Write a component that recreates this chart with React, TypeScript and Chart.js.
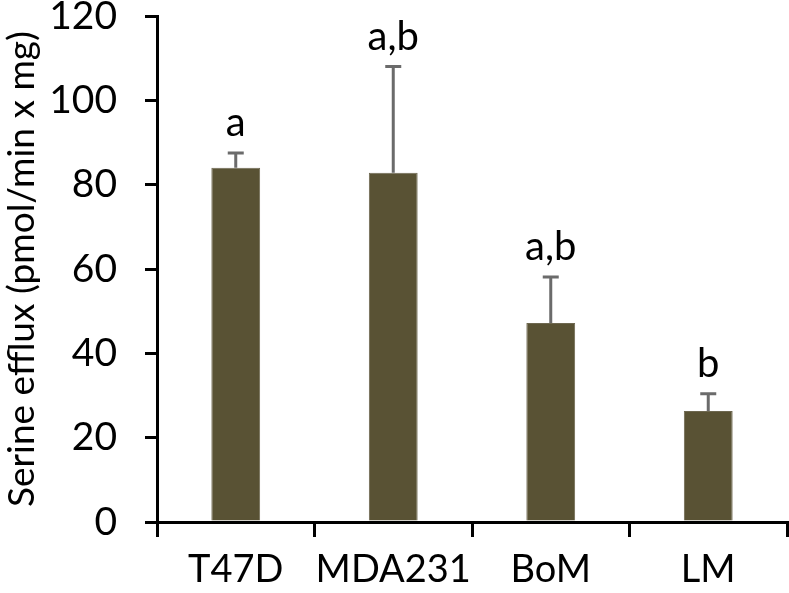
import React, { useEffect, useRef } from "react";
import { Chart, registerables } from "chart.js";

Chart.register(...registerables);

const categories = ["T47D", "MDA231", "BoM", "LM"];
const means = [84, 82.8, 47.2, 26.3];
const errors = [3.5, 25.2, 10.9, 4.1];
const letters = ["a", "a,b", "a,b", "b"];
const yTitle = "Serine efflux (pmol/min x mg)";

const FONT = "Lato, Carlito, Calibri, 'DejaVu Sans', sans-serif";

const errorBarPlugin = {
  id: "errorBarsAndLetters",
  afterDatasetsDraw(chart: any) {
    const ctx = chart.ctx;
    const meta = chart.getDatasetMeta(0);
    const y = chart.scales.y;
    ctx.save();
    meta.data.forEach((bar: any, i: number) => {
      const x = bar.x;
      const base = y.getPixelForValue(means[i]);
      const top = y.getPixelForValue(means[i] + errors[i]);
      ctx.strokeStyle = "#6b6b6b";
      ctx.lineWidth = 3;
      ctx.beginPath();
      ctx.moveTo(x, base);
      ctx.lineTo(x, top);
      ctx.moveTo(x - 8, top);
      ctx.lineTo(x + 8, top);
      ctx.stroke();
      ctx.fillStyle = "#000";
      ctx.font = `40px ${FONT}`;
      ctx.textAlign = "center";
      ctx.textBaseline = "alphabetic";
      ctx.fillText(letters[i], x, top - 17);
    });
    ctx.restore();
  },
};

export default function App() {
  const ref = useRef<HTMLCanvasElement | null>(null);
  useEffect(() => {
    if (!ref.current) return;
    const chart = new Chart(ref.current, {
      type: "bar",
      data: {
        labels: categories,
        datasets: [
          {
            data: means,
            backgroundColor: "#595234",
            borderColor: "#6e6850",
            borderWidth: 1,
            barPercentage: 0.31,
            categoryPercentage: 1,
          },
        ],
      },
      options: {
        responsive: false,
        animation: false,
        devicePixelRatio: 1,
        layout: { padding: { top: 16, right: 2, left: 0, bottom: 0 } },
        plugins: {
          legend: { display: false },
          tooltip: { enabled: false },
        },
        scales: {
          x: {
            grid: {
              display: true,
              drawOnChartArea: false,
              drawTicks: true,
              tickLength: 15,
              color: "#000",
              lineWidth: 3,
              offset: true,
            },
            border: { display: true, color: "#000", width: 3 },
            ticks: {
              color: "#000",
              font: { family: FONT, size: 38 },
              padding: 10,
              autoSkip: false,
              maxRotation: 0,
              minRotation: 0,
            },
            afterFit: (s: any) => {
              s.height = 71;
              s.paddingLeft = 0;
              s.paddingRight = 0;
            },
          },
          y: {
            min: 0,
            max: 120,
            ticks: { stepSize: 20, color: "#000", font: { family: FONT, size: 39 }, padding: 28 },
            grid: {
              display: true,
              drawOnChartArea: false,
              drawTicks: true,
              tickLength: 12,
              color: "#000",
              lineWidth: 3,
            },
            border: { display: true, color: "#000", width: 3 },
            title: {
              display: true,
              text: yTitle,
              color: "#000",
              font: { family: FONT, size: 37 },
              padding: { top: 0, bottom: 0 },
            },
            afterFit: (s: any) => {
              s.width = 157;
              s.paddingTop = 0;
              s.paddingBottom = 0;
            },
          },
        },
      },
      plugins: [errorBarPlugin],
    });
    return () => chart.destroy();
  }, []);
  return (
    <div style={{ position: "absolute", left: 0, top: 0, width: 789, height: 593, background: "#fff" }}>
      <canvas ref={ref} width={789} height={593} />
    </div>
  );
}
